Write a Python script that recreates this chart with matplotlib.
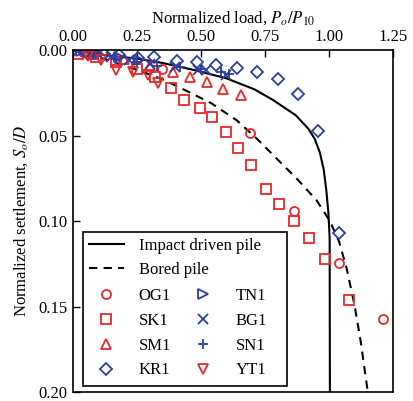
import matplotlib
matplotlib.use("Agg")
import matplotlib.pyplot as plt
from matplotlib.patches import Rectangle
from matplotlib.lines import Line2D

plt.rcParams['font.family'] = ['Liberation Serif', 'DejaVu Serif']
plt.rcParams['mathtext.fontset'] = 'stix'
plt.rcParams['font.size'] = 12

RED = '#e8282a'
BLUE = '#2e3ea0'

# design curves
impact_x = [0.0, 0.10, 0.25, 0.35, 0.47, 0.60, 0.71, 0.78, 0.87, 0.92, 0.945, 0.965, 0.98, 0.99, 0.998, 1.003, 1.004]
impact_y = [0.0, 0.0025, 0.005, 0.0075, 0.0115, 0.0165, 0.023, 0.029, 0.038, 0.046, 0.052, 0.060, 0.070, 0.082, 0.095, 0.11, 0.20]

bored_x = [0.0, 0.10, 0.24, 0.35, 0.46, 0.54, 0.64, 0.72, 0.80, 0.88, 0.953, 1.004, 1.04, 1.07, 1.10, 1.125, 1.152]
bored_y = [0.0, 0.004, 0.011, 0.017, 0.025, 0.031, 0.041, 0.052, 0.064, 0.076, 0.088, 0.100, 0.112, 0.128, 0.149, 0.171, 0.200]

# pile load tests
og1_x = [0.04, 0.35, 0.69, 0.863, 1.039, 1.211]
og1_y = [0.001, 0.011, 0.0485, 0.094, 0.1246, 0.157]

sk1_x = [0.02, 0.09, 0.17, 0.25, 0.32, 0.383, 0.434, 0.496, 0.543, 0.598, 0.645, 0.695, 0.754, 0.805, 0.863, 0.922, 0.984, 1.078]
sk1_y = [0.002, 0.004, 0.007, 0.011, 0.016, 0.022, 0.029, 0.034, 0.039, 0.048, 0.057, 0.067, 0.081, 0.090, 0.100, 0.110, 0.122, 0.146]

sm1_x = [0.08, 0.20, 0.30, 0.391, 0.457, 0.523, 0.586, 0.656]
sm1_y = [0.002, 0.005, 0.009, 0.0129, 0.0158, 0.0187, 0.0228, 0.0263]

kr1_x = [0.05, 0.12, 0.18, 0.254, 0.316, 0.406, 0.484, 0.559, 0.641, 0.719, 0.80, 0.879, 0.957, 1.039]
kr1_y = [0.001, 0.002, 0.003, 0.0047, 0.0041, 0.0064, 0.007, 0.0088, 0.0105, 0.0129, 0.017, 0.0257, 0.047, 0.107]

tn1_x = [0.03, 0.10, 0.18, 0.26]
tn1_y = [0.0008, 0.002, 0.004, 0.006]

bg1_x = [0.02, 0.08, 0.15, 0.22, 0.30, 0.40, 0.49, 0.52, 0.60]
bg1_y = [0.0005, 0.002, 0.004, 0.006, 0.008, 0.010, 0.0115, 0.0115, 0.0145]

sn1_x = [0.04, 0.10, 0.17, 0.25, 0.33, 0.42, 0.50, 0.58, 0.61]
sn1_y = [0.001, 0.003, 0.005, 0.007, 0.009, 0.010, 0.011, 0.013, 0.014]

yt1_x = [0.059, 0.109, 0.168, 0.234, 0.293, 0.332]
yt1_y = [0.0035, 0.0058, 0.0117, 0.0129, 0.0146, 0.0193]

fig = plt.figure(figsize=(4.14, 4.01), dpi=100)
ax = fig.add_axes([0.176, 0.022, 0.773, 0.853])

ax.plot(impact_x, impact_y, color='black', lw=1.5)
ax.plot(bored_x, bored_y, color='black', lw=1.5, ls=(0, (4, 3)))

ms = 6.5
mew = 1.3
series = [
    (og1_x, og1_y, 'o', RED, 'OG1'),
    (sk1_x, sk1_y, 's', RED, 'SK1'),
    (sm1_x, sm1_y, '^', RED, 'SM1'),
    (kr1_x, kr1_y, 'D', BLUE, 'KR1'),
    (tn1_x, tn1_y, '>', BLUE, 'TN1'),
    (bg1_x, bg1_y, 'x', BLUE, 'BG1'),
    (sn1_x, sn1_y, '+', BLUE, 'SN1'),
    (yt1_x, yt1_y, 'v', RED, 'YT1'),
]
for xs, ys, m, c, lab in series:
    ax.plot(xs, ys, ls='none', marker=m, ms=ms, mew=mew, mfc='none', mec=c)

ax.set_xlim(0, 1.25)
ax.set_ylim(0.20, 0.0)
ax.set_xticks([0, 0.25, 0.5, 0.75, 1.0, 1.25])
ax.set_yticks([0, 0.05, 0.10, 0.15, 0.20])
ax.xaxis.set_major_formatter(matplotlib.ticker.FormatStrFormatter('%.2f'))
ax.yaxis.set_major_formatter(matplotlib.ticker.FormatStrFormatter('%.2f'))
ax.xaxis.tick_top()
ax.xaxis.set_label_position('top')
ax.tick_params(direction='in', length=5, width=1, labelsize=12, pad=4)
for s in ax.spines.values():
    s.set_linewidth(1.2)
ax.set_xlabel('Normalized load, $P_o/P_{10}$', fontsize=12, labelpad=4)
ax.set_ylabel('Normalized settlement, $S_o/D$', fontsize=12, labelpad=6)

# legend: two lines spanning the box, then markers in two columns
line_handles = [Line2D([], [], color='black', lw=1.5),
                Line2D([], [], color='black', lw=1.5, ls=(0, (4, 3)))]
leg1 = ax.legend(line_handles, ['Impact driven pile', 'Bored pile'],
                 loc='upper left', bbox_to_anchor=(0.031, 0.468), frameon=False,
                 handlelength=2.1, handletextpad=0.9, labelspacing=0.5,
                 borderaxespad=0, borderpad=0.35, fontsize=12)
ax.add_artist(leg1)

mk_handles = []
mk_labels = []
for xs, ys, m, c, lab in series:
    mk_handles.append(Line2D([], [], ls='none', marker=m, ms=ms, mew=mew, mfc='none', mec=c))
    mk_labels.append(lab)
# ncol=2 fills column by column
leg2 = ax.legend(mk_handles, mk_labels, ncol=2, loc='upper left',
                 bbox_to_anchor=(0.031, 0.322), frameon=False,
                 handlelength=2.1, handletextpad=0.9, labelspacing=0.53,
                 columnspacing=0.9, borderaxespad=0, borderpad=0.35, fontsize=12)

ax.add_patch(Rectangle((0.031, 0.018), 0.638, 0.45, transform=ax.transAxes,
                       fill=True, facecolor='white', edgecolor='black', lw=1.2, zorder=4))
leg1.set_zorder(5)
leg2.set_zorder(5)

fig.savefig('out.png', dpi=100)
